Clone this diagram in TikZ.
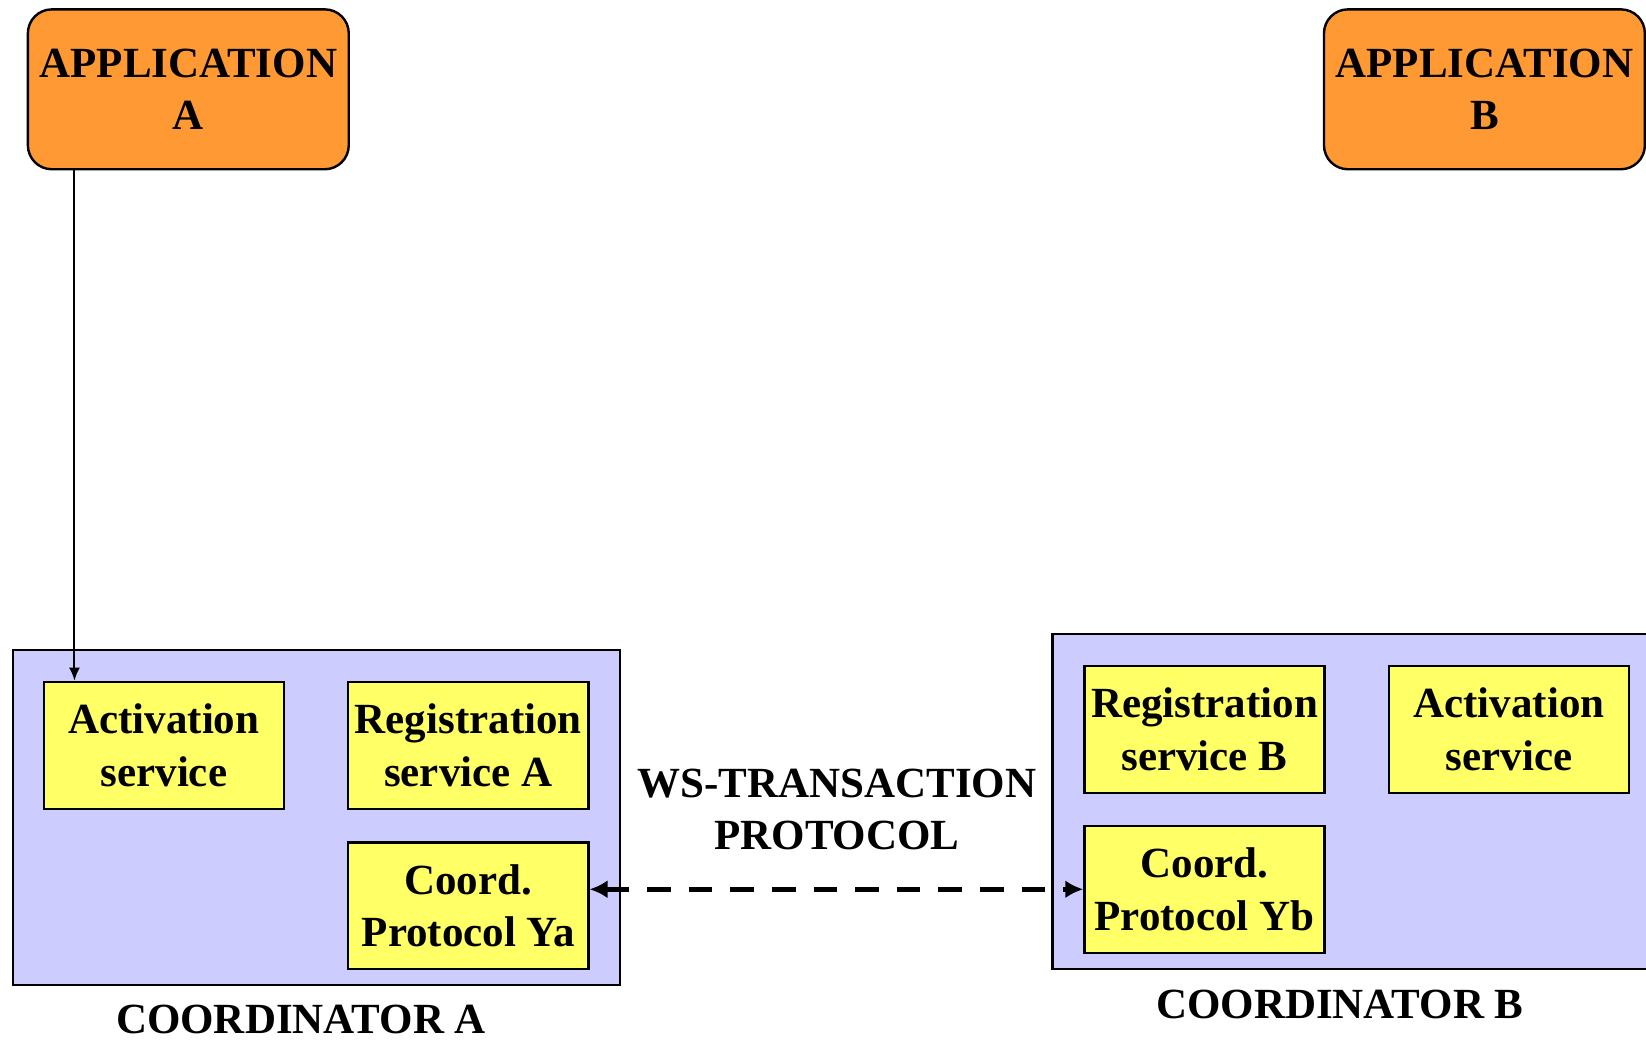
\documentclass[tikz,border=0pt]{standalone}
\usepackage{fontspec}
\setmainfont{Liberation Serif}
\usetikzlibrary{arrows.meta}
\definecolor{apporange}{RGB}{255,153,51}
\definecolor{coordlilac}{RGB}{204,204,255}
\definecolor{serviceyellow}{RGB}{255,255,102}

\tikzset{
  appbox/.style={draw, line width=1.2pt, rounded corners=12pt, fill=apporange,
    minimum width=5.64cm, minimum height=2.81cm, align=center, inner sep=0pt},
  coordbox/.style={draw, line width=1.2pt, fill=coordlilac, inner sep=0pt},
  servicebox/.style={draw, line width=1.2pt, fill=serviceyellow,
    minimum width=4.22cm, minimum height=2.23cm, align=center, inner sep=0pt},
  wsarrow/.style={line width=2.3pt, dash pattern=on 11.8pt off 9pt,
    {Latex[length=9pt,width=9pt]}-{Latex[length=9pt,width=9pt]}},
}

\begin{document}
\begin{tikzpicture}[font=\fontsize{21.5}{26.3}\selectfont\bfseries, >=Latex, line join=miter]

\useasboundingbox (0,0) rectangle (28.93,18.28);

% ---------- Applications ----------
\node[appbox] (appA) at (3.31,16.71) {APPLICATION\\A};
\node[appbox] (appB) at (26.09,16.71) {APPLICATION\\B};

% ---------- Coordinator A ----------
\node[coordbox, minimum width=10.67cm, minimum height=5.89cm] (coordA) at (5.56,3.91) {};
\node[servicebox] (actA)  at (2.88,5.18) {Activation\\service};
\node[servicebox] (regA)  at (8.23,5.18) {Registration\\service A};
\node[servicebox] (protA) at (8.23,2.36) {Coord.\\Protocol Ya};
\node (labA) at (5.29,0.36) {COORDINATOR A};

% ---------- Coordinator B ----------
\node[coordbox, minimum width=10.6cm, minimum height=5.89cm] (coordB) at (23.8,4.19) {};
\node[servicebox] (regB)  at (21.17,5.46) {Registration\\service B};
\node[servicebox] (actB)  at (26.52,5.46) {Activation\\service};
\node[servicebox] (protB) at (21.17,2.65) {Coord.\\Protocol Yb};
\node (labB) at (23.55,0.63) {COORDINATOR B};

% ---------- connectors ----------
\coordinate (actin) at ([xshift=0.56cm]actA.north west);
\draw[line width=1pt, -{Latex[length=6.5pt,width=5.5pt]}] (appA.south -| actin) -- (actin);

\node[align=center] (ws) at (14.71,4.05) {WS-TRANSACTION\\PROTOCOL};
\draw[wsarrow] (protB.west -| protA.east) -- (protB.west);

\end{tikzpicture}
\end{document}
